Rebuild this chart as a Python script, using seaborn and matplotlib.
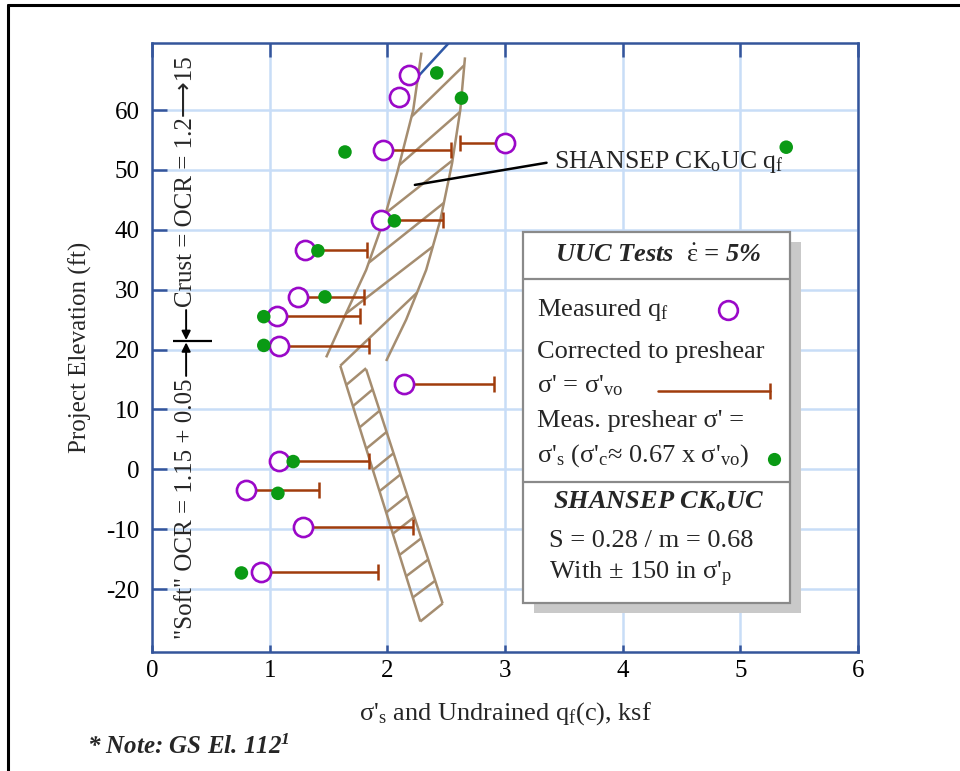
import numpy as np
import pandas as pd
import matplotlib
matplotlib.use("Agg")
import matplotlib.pyplot as plt
import seaborn as sns
from matplotlib.lines import Line2D
from matplotlib.patches import Rectangle

# ---------------- data ----------------
# Measured q_f (open circles) and corrected-to-preshear values (bars)
meas_qf   = [2.18, 2.10, 1.96, 3.00, 1.95, 1.30, 1.24, 1.06, 1.08, 2.14, 1.08, 0.80, 1.28, 0.93]
meas_elev = [65.8, 62.2, 53.3, 54.5, 41.7, 36.6, 28.8, 25.6, 20.6, 14.2, 1.4, -3.5, -9.7, -17.1]
corr_qf   = [np.nan, np.nan, 2.54, 2.62, 2.47, 1.83, 1.80, 1.77, 1.84, 2.91, 1.84, 1.42, 2.22, 1.92]

# Measured preshear sigma'_s (green dots)
sig_s    = [2.42, 2.63, 1.64, 5.39, 2.06, 1.41, 1.47, 0.95, 0.95, 1.20, 1.07, 0.76]
sig_elev = [66.2, 62.0, 53.0, 53.8, 41.5, 36.5, 28.8, 25.5, 20.7, 1.3, -4.0, -17.3]

# SHANSEP CKoUC q_f band - crust
crust_lo_elev = [69.6, 60.0, 50.0, 41.6, 33.3, 26.1, 18.7]
crust_lo_x    = [2.29, 2.22, 2.09, 1.97, 1.82, 1.65, 1.48]
crust_hi_elev = [68.8, 60.0, 51.1, 41.6, 33.3, 25.0, 18.1]
crust_hi_x    = [2.66, 2.62, 2.55, 2.45, 2.33, 2.16, 1.99]
crust_hatch_from = [26.0, 34.5, 42.8, 50.8, 58.9]
crust_hatch_to   = [37.2, 44.5, 51.6, 59.7, 67.5]
crust_first_hatch_to = 29.5

# SHANSEP band - soft
soft_lo_elev = [17.3, -25.4]
soft_lo_x    = [1.60, 2.28]
soft_hi_elev = [16.7, -22.4]
soft_hi_x    = [1.82, 2.47]
soft_hatch_from = [14.1, 10.55, 7.0, 3.45, -0.1, -3.65, -7.2, -10.75, -14.3, -17.85, -21.4]
soft_hatch_rise = 2.8

# blue line at top
blue_x    = [2.27, 2.56]
blue_elev = [65.8, 72.0]

# annotation leader
leader_x    = [2.234, 3.353]
leader_elev = [47.5, 51.2]

x_ticks = [0, 1, 2, 3, 4, 5, 6]
y_ticks = [-20, -10, 0, 10, 20, 30, 40, 50, 60]

# ---------------- style ----------------
sns.set_theme(style="white")
plt.rcParams['font.family'] = ['Liberation Serif', 'DejaVu Sans']
plt.rcParams['mathtext.fontset'] = 'custom'
plt.rcParams['mathtext.rm'] = 'Liberation Serif'
plt.rcParams['mathtext.it'] = 'Liberation Serif:italic'
plt.rcParams['mathtext.bf'] = 'Liberation Serif:bold:italic'
plt.rcParams['mathtext.fallback'] = 'stix'
plt.rcParams['axes.unicode_minus'] = False

PURPLE = '#9a08c8'
GREEN = '#0a9a14'
BROWN = '#a03c0c'
TAN = '#a58d70'
SPINE = '#34559b'
GRID = '#c8ddf7'
BLUE = '#2e58a6'

FS = 18

fig = plt.figure(figsize=(9.6, 7.71), dpi=100)
L, R, T, B = 152, 858, 43, 652
ax = fig.add_axes([L / 960, 1 - B / 771, (R - L) / 960, (B - T) / 771])
ax.set_xlim(0, 6)
ax.set_ylim(-30.5, 71.2)
ax.set_xticks(x_ticks)
ax.set_yticks(y_ticks)
ax.grid(True, color=GRID, lw=1.8)
ax.set_axisbelow(True)
for s in ax.spines.values():
    s.set_color(SPINE)
    s.set_linewidth(1.8)
    s.set_visible(True)
ax.tick_params(axis='y', direction='in', length=11, width=1.8, color=SPINE,
               left=True, right=False, labelsize=FS, pad=9, labelcolor='black')
ax.tick_params(axis='x', direction='in', length=5, width=1.8, color=SPINE,
               bottom=True, top=True, labelsize=FS, pad=6, labelcolor='black')
for t in ax.xaxis.get_major_ticks():
    t.tick2line.set_markersize(10)

# ---------------- band ----------------
bc = dict(color=TAN, lw=1.8, zorder=2, solid_capstyle='butt')
ax.plot(crust_lo_x, crust_lo_elev, **bc)
ax.plot(crust_hi_x, crust_hi_elev, **bc)
lo_e = crust_lo_elev[::-1]; lo_x = crust_lo_x[::-1]
hi_e = crust_hi_elev[::-1]; hi_x = crust_hi_x[::-1]
for e0, e1 in zip(crust_hatch_from, crust_hatch_to):
    ax.plot([np.interp(e0, lo_e, lo_x), np.interp(e1, hi_e, hi_x)], [e0, e1], **bc)
ax.plot([soft_lo_x[0], np.interp(crust_first_hatch_to, hi_e, hi_x)],
        [soft_lo_elev[0], crust_first_hatch_to], **bc)
ax.plot(soft_lo_x, soft_lo_elev, **bc)
ax.plot(soft_hi_x, soft_hi_elev, **bc)
ax.plot([soft_lo_x[1], soft_hi_x[1]], [soft_lo_elev[1], soft_hi_elev[1]], **bc)
sl_e = soft_lo_elev[::-1]; sl_x = soft_lo_x[::-1]
sh_e = soft_hi_elev[::-1]; sh_x = soft_hi_x[::-1]
for e0 in soft_hatch_from:
    e1 = e0 + soft_hatch_rise
    ax.plot([np.interp(e0, sl_e, sl_x), np.interp(e1, sh_e, sh_x)], [e0, e1], **bc)

ax.plot(blue_x, blue_elev, color=BLUE, lw=1.8, zorder=2)
ax.plot(leader_x, leader_elev, color='black', lw=1.8, zorder=3)

# ---------------- data marks ----------------
df_meas = pd.DataFrame({'qf': meas_qf, 'elev': meas_elev, 'corr': corr_qf})
df_sig = pd.DataFrame({'sig': sig_s, 'elev': sig_elev})
bars = df_meas.dropna(subset=['corr'])
ax.hlines(bars['elev'], bars['qf'], bars['corr'], color=BROWN, lw=1.8, zorder=3)
ax.plot(bars['corr'], bars['elev'], ls='none', marker='|', ms=11, mew=1.8,
        color=BROWN, zorder=3)

sns.scatterplot(data=df_meas, x='qf', y='elev', ax=ax, s=190, marker='o',
                color='white', edgecolor=PURPLE, linewidth=1.9, zorder=4, legend=False)
sns.scatterplot(data=df_sig, x='sig', y='elev', ax=ax, s=95, marker='o',
                color=GREEN, edgecolor='none', linewidth=0, zorder=5, legend=False)

ax.set_xlabel("")
ax.set_ylabel("")

# ---------------- texts ----------------
ax.text(3.42, 51.4, r"SHANSEP CK$_\mathrm{o}$UC q$_\mathrm{f}$", fontsize=FS + 0.5,
        ha='left', va='center', zorder=6)

ax.text(0.29, 48.0, "Crust = OCR = 1.2\u27f615", rotation=90, fontsize=FS,
        ha='center', va='center', family=['Liberation Serif', 'DejaVu Sans'])
ax.text(0.29, -6.6, '"Soft" OCR = 1.15 + 0.05', rotation=90, fontsize=FS,
        ha='center', va='center')
ax.hlines(21.4, 0.18, 0.51, color='black', lw=1.6, zorder=3)
ax.annotate('', xy=(0.29, 21.6), xytext=(0.29, 26.6),
            arrowprops=dict(arrowstyle='-|>', color='black', lw=1.4, mutation_scale=13,
                            shrinkA=0, shrinkB=0))
ax.annotate('', xy=(0.29, 21.2), xytext=(0.29, 15.6),
            arrowprops=dict(arrowstyle='-|>', color='black', lw=1.4, mutation_scale=13,
                            shrinkA=0, shrinkB=0))

fig.text(0.5 * (L + R) / 960, 1 - 714 / 771,
         r"σ'$_\mathrm{s}$ and Undrained q$_\mathrm{f}$(c), ksf",
         fontsize=FS + 1, ha='center', va='center')
fig.text(80 / 960, 1 - 347 / 771, "Project Elevation (ft)", rotation=90,
         fontsize=FS, ha='center', va='center')
fig.text(87 / 960, 1 - 747 / 771, r"* Note: GS El. 112$^\mathbf{1}$",
         fontsize=FS, ha='left', va='center', fontweight='bold', style='italic')

# ---------------- legend box ----------------
def P(x, y):
    return ((x - L) / (R - L), (B - y) / (B - T))

bx0, by0, bx1, by1 = 523, 232, 790, 603
sx, sy = P(bx0 + 11, by1 + 10)
ax.add_patch(Rectangle((sx, sy), (bx1 - bx0) / (R - L), (by1 - by0) / (B - T),
                       transform=ax.transAxes, facecolor='#c9c9c9', edgecolor='none',
                       zorder=8, clip_on=False))
rx, ry = P(bx0, by1)
ax.add_patch(Rectangle((rx, ry), (bx1 - bx0) / (R - L), (by1 - by0) / (B - T),
                       transform=ax.transAxes, facecolor='white', edgecolor='#8a8a8a',
                       lw=1.6, zorder=9, clip_on=False))
for yy in (279, 482):
    a, b_ = P(bx0, yy)
    c, _ = P(bx1, yy)
    ax.add_line(Line2D([a, c], [b_, b_], transform=ax.transAxes, color='#8a8a8a',
                       lw=1.6, zorder=10))

def T_(x, y, s, **kw):
    xa, ya = P(x, y)
    kw.setdefault('fontsize', FS + 1)
    kw.setdefault('va', 'center')
    kw.setdefault('ha', 'left')
    ax.text(xa, ya, s, transform=ax.transAxes, zorder=11, **kw)

T_(658, 256, r"UUC Tests  $\dot{\mathrm{ε}}$ = 5%", ha='center', fontweight='bold',
   style='italic')
T_(537, 310, r"Measured q$_\mathrm{f}$")
T_(537, 352, "Corrected to preshear")
T_(537, 386, r"σ' = σ'$_\mathrm{vo}$")
T_(537, 421, "Meas. preshear σ' =")
T_(537, 456, r"σ'$_\mathrm{s}$ (σ'$_\mathrm{c}$≈ 0.67 x σ'$_\mathrm{vo}$)")
T_(658, 502, r"SHANSEP CK$_\mathbf{o}$UC", ha='center', fontweight='bold', style='italic')
T_(549, 541, "S = 0.28 / m = 0.68")
T_(549, 574, r"With ± 150 in σ'$_\mathrm{p}$")

mx, my = P(728, 310)
ax.plot([mx], [my], transform=ax.transAxes, marker='o', ms=13.5, mfc='white',
        mec=PURPLE, mew=1.9, zorder=12, clip_on=False)
l0, ly = P(658, 391)
l1, _ = P(770, 391)
ax.plot([l0, l1], [ly, ly], transform=ax.transAxes, color=BROWN, lw=1.8, zorder=12,
        clip_on=False)
ax.plot([l1], [ly], transform=ax.transAxes, marker='|', ms=11, mew=1.8, color=BROWN,
        zorder=12, clip_on=False)
gx, gy = P(774, 459)
ax.plot([gx], [gy], transform=ax.transAxes, marker='o', ms=9.5, mfc=GREEN, mec='none',
        zorder=12, clip_on=False)

# ---------------- outer frame ----------------
fig.add_artist(Line2D([8 / 960, 8 / 960], [0, 1 - 5 / 771], color='black', lw=2.2,
                      transform=fig.transFigure))
fig.add_artist(Line2D([8 / 960, 1], [1 - 5 / 771, 1 - 5 / 771], color='black', lw=2.2,
                      transform=fig.transFigure))

fig.savefig("out.png", dpi=100)
